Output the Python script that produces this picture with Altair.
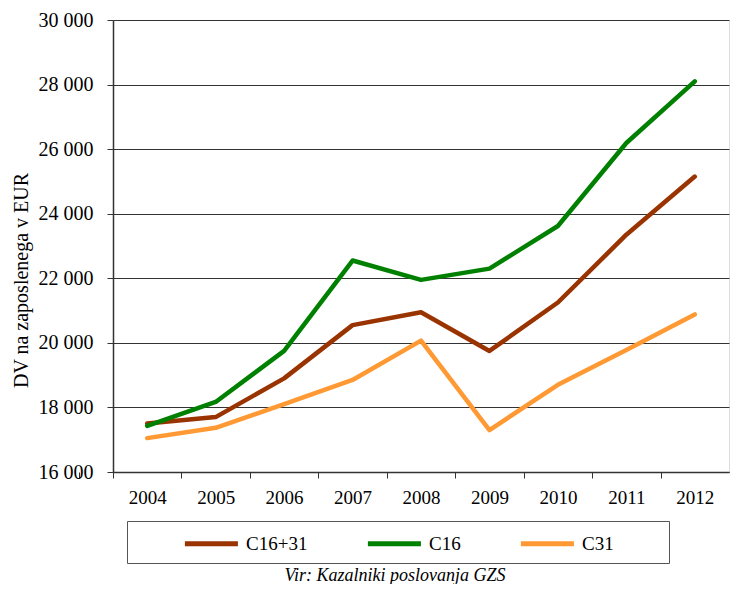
import altair as alt
import pandas as pd

years = ["2004", "2005", "2006", "2007", "2008", "2009", "2010", "2011", "2012"]
series_names = ["C16+31", "C16", "C31"]
c16_31 = [17500, 17700, 18900, 20550, 20950, 19750, 21250, 23350, 25150]
c16 = [17430, 18170, 19750, 22550, 21950, 22300, 23620, 26190, 28100]
c31 = [17050, 17370, 18100, 18850, 20070, 17300, 18700, 19780, 20880]
colors = ["#993300", "#008000", "#FF9933"]
y_ticks = [16000, 18000, 20000, 22000, 24000, 26000, 28000, 30000]

rows = []
for name, vals in zip(series_names, [c16_31, c16, c31]):
    for yr, v in zip(years, vals):
        rows.append({"leto": yr, "serija": name, "vrednost": v})
df = pd.DataFrame(rows)

FONT = "Liberation Serif"

chart = alt.Chart(df).mark_line(strokeWidth=4.5, strokeCap="round", strokeJoin="round").encode(
    x=alt.X("leto:N", sort=years, title=None, bandPosition=0.5,
            scale=alt.Scale(type="band", paddingInner=0, paddingOuter=0),
            axis=alt.Axis(labelAngle=0, tickOffset=-34.2, tickExtra=True, labelOffset=34.2,
                          grid=False, domainColor="#333", domainWidth=1.5,
                          tickColor="#333", tickSize=6, labelPadding=10,
                          labelFont=FONT, labelFontSize=19, labelColor="#000")),
    y=alt.Y("vrednost:Q", title="DV na zaposlenega v EUR",
            scale=alt.Scale(domain=[16000, 30000], nice=False, zero=False),
            axis=alt.Axis(values=y_ticks, labelExpr="replace(format(datum.value, ','), ',', ' ')",
                          grid=True, gridColor="#333", gridWidth=1,
                          domainColor="#333", domainWidth=1.5,
                          tickColor="#333", tickSize=6, labelPadding=14,
                          labelFont=FONT, labelFontSize=20, labelColor="#000",
                          titleFont=FONT, titleFontSize=20, titleFontWeight="normal",
                          titleColor="#000", titleAngle=-90, titleX=-92, titleY=260,
                          titleAlign="center", titleBaseline="middle")),
    color=alt.Color("serija:N", sort=series_names,
                    scale=alt.Scale(domain=series_names, range=colors),
                    legend=alt.Legend(orient="none", legendX=14, legendY=501,
                                      direction="horizontal", title=".",
                                      titleOrient="right", titlePadding=40,
                                      titleOpacity=0, titleFontSize=19,
                                      symbolType="M-1,0H4", symbolSize=450,
                                      symbolStrokeWidth=5, labelFontSize=19,
                                      labelFont=FONT, labelColor="#000",
                                      strokeColor="#555", padding=9, symbolOffset=46,
                                      columnPadding=11, labelOffset=37)),
).properties(
    width=616, height=452,
    autosize=alt.AutoSizeParams(type="none"),
    padding={"left": 105, "top": 12, "right": 1, "bottom": 112},
    title=alt.TitleParams("Vir: Kazalniki poslovanja GZS", orient="bottom", anchor="middle",
                          font=FONT, fontSize=18, fontStyle="italic", fontWeight="normal",
                          color="#000", offset=3, dx=-26),
).configure_view(stroke=None).configure(background="white")

chart.save("out.html", embed_options={"renderer": "svg", "actions": False})
